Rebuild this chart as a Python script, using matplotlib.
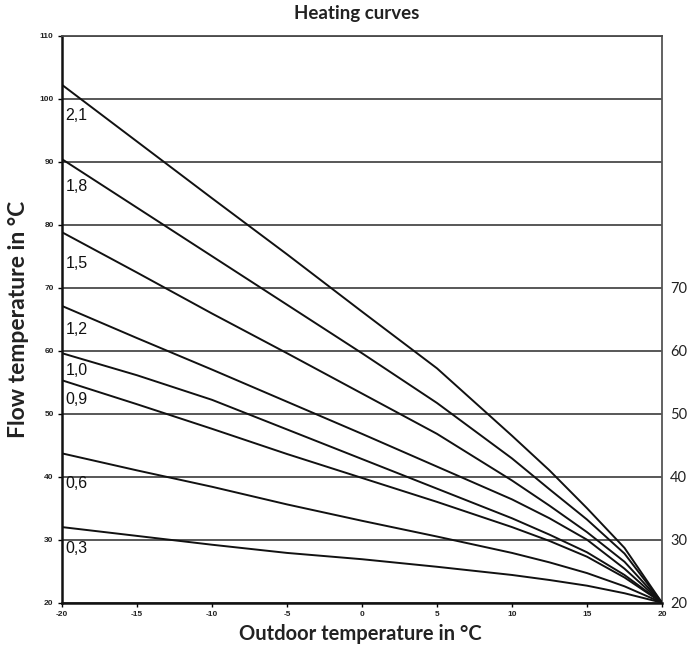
import matplotlib
matplotlib.use("Agg")
import matplotlib.pyplot as plt

outdoor = [-20, -15, -10, -5, 0, 5, 10, 12.5, 15, 17.5, 20]

curve_names = ["2,1", "1,8", "1,5", "1,2", "1,0", "0,9", "0,6", "0,3"]
c21 = [102.2, 93.2, 84.2, 75.3, 66.2, 57.2, 46.5, 41.0, 35.0, 28.7, 20]
c18 = [90.4, 82.7, 75.0, 67.3, 59.6, 51.7, 42.9, 38.0, 33.2, 27.8, 20]
c15 = [78.8, 72.4, 65.9, 59.6, 53.2, 46.8, 39.4, 35.4, 31.2, 26.5, 20]
c12 = [67.1, 62.0, 57.0, 51.9, 46.8, 41.6, 36.4, 33.4, 30.0, 25.4, 20]
c10 = [59.6, 56.1, 52.2, 47.5, 42.8, 38.1, 33.4, 30.8, 28.0, 24.4, 20]
c09 = [55.3, 51.5, 47.6, 43.6, 39.8, 36.0, 32.0, 29.8, 27.3, 24.0, 20]
c06 = [43.7, 41.0, 38.4, 35.6, 33.0, 30.5, 27.9, 26.4, 24.7, 22.6, 20]
c03 = [32.0, 30.6, 29.2, 27.9, 26.9, 25.7, 24.4, 23.6, 22.7, 21.5, 20]
curves = [c21, c18, c15, c12, c10, c09, c06, c03]
label_y = [97.4, 86.0, 73.9, 63.3, 56.9, 52.2, 38.9, 28.6]

x_ticks = [-20, -15, -10, -5, 0, 5, 10, 15, 20]
y_ticks = [20, 30, 40, 50, 60, 70, 80, 90, 100, 110]
right_ticks = [20, 30, 40, 50, 60, 70]

fig = plt.figure(figsize=(6.91, 6.45), dpi=100)
ax = fig.add_axes([0.0897, 0.0656, 0.8683, 0.8791])

for v in y_ticks:
    ax.axhline(v, color="#4a4a4a", lw=1.3, zorder=1)

for ys in curves:
    ax.plot(outdoor, ys, color="#111111", lw=1.4, zorder=3, solid_joinstyle="miter")

for name, ly in zip(curve_names, label_y):
    ax.text(-19.75, ly, name, fontsize=11.5, family="Liberation Sans",
            ha="left", va="center", color="#111111", zorder=4)

ax.set_xlim(-20, 20)
ax.set_ylim(20, 110)
ax.set_xticks(x_ticks)
ax.set_yticks(y_ticks)
ax.set_xticklabels([str(t) for t in x_ticks], fontsize=6, fontweight="bold",
                   family="Liberation Sans", color="#222222")
ax.set_yticklabels([str(t) for t in y_ticks], fontsize=6, fontweight="bold",
                   family="Liberation Sans", color="#222222")
ax.tick_params(axis="both", length=3, width=1, direction="out", pad=3)

for s in ["left", "bottom"]:
    ax.spines[s].set_color("#111111")
    ax.spines[s].set_linewidth(1.8)
ax.spines["top"].set_color("#4a4a4a")
ax.spines["top"].set_linewidth(1.3)
ax.spines["right"].set_color("#555555")
ax.spines["right"].set_linewidth(1.3)

ax2 = ax.twinx()
ax2.set_ylim(20, 110)
ax2.set_yticks(right_ticks)
ax2.set_yticklabels([str(t) for t in right_ticks], fontsize=10.5, family="Lato",
                    color="#222222")
ax2.tick_params(axis="y", length=0, pad=6)
for s in ax2.spines.values():
    s.set_visible(False)

fig.text(0.516, 0.979, "Heating curves", ha="center", va="center",
         fontsize=13.5, fontweight="bold", family="Lato", color="#222222")
fig.text(0.521, 0.017, "Outdoor temperature in °C", ha="center", va="center",
         fontsize=14.5, fontweight="bold", family="Lato", color="#222222")
fig.text(0.027, 0.505, "Flow temperature in °C", ha="center", va="center",
         rotation=90, fontsize=16.5, fontweight="bold", family="Lato", color="#222222")

fig.savefig("out.png", dpi=100, facecolor="white")
